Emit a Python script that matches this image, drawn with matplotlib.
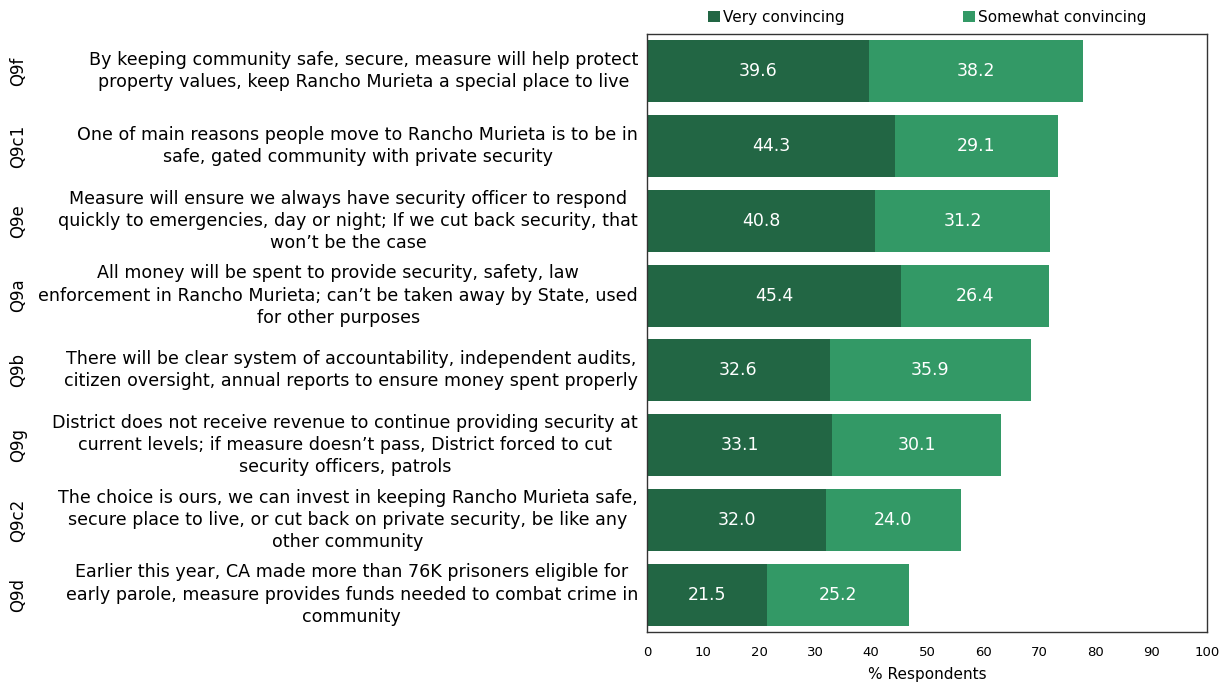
import matplotlib.pyplot as plt
import numpy as np

codes = ["Q9f", "Q9c1", "Q9e", "Q9a", "Q9b", "Q9g", "Q9c2", "Q9d"]
statements = [
    "By keeping community safe, secure, measure will help protect\nproperty values, keep Rancho Murieta a special place to live",
    "One of main reasons people move to Rancho Murieta is to be in\nsafe, gated community with private security",
    "Measure will ensure we always have security officer to respond\nquickly to emergencies, day or night; If we cut back security, that\nwon\u2019t be the case",
    "All money will be spent to provide security, safety, law\nenforcement in Rancho Murieta; can\u2019t be taken away by State, used\nfor other purposes",
    "There will be clear system of accountability, independent audits,\ncitizen oversight, annual reports to ensure money spent properly",
    "District does not receive revenue to continue providing security at\ncurrent levels; if measure doesn\u2019t pass, District forced to cut\nsecurity officers, patrols",
    "The choice is ours, we can invest in keeping Rancho Murieta safe,\nsecure place to live, or cut back on private security, be like any\nother community",
    "Earlier this year, CA made more than 76K prisoners eligible for\nearly parole, measure provides funds needed to combat crime in\ncommunity",
]
very = [39.6, 44.3, 40.8, 45.4, 32.6, 33.1, 32.0, 21.5]
somewhat = [38.2, 29.1, 31.2, 26.4, 35.9, 30.1, 24.0, 25.2]

dark = "#226644"
light = "#339966"

fig = plt.figure(figsize=(12.24, 6.84), dpi=100)
ax = fig.add_axes([647 / 1224, 1 - 632 / 684, 560 / 1224, 598 / 684])

y = np.arange(len(codes))
b1 = ax.barh(y, very, height=0.83, color=dark, label="Very convincing")
b2 = ax.barh(y, somewhat, left=very, height=0.83, color=light, label="Somewhat convincing")

for v, s, yi in zip(very, somewhat, y):
    ax.text(v / 2, yi, f"{v:.1f}", ha="center", va="center", color="white", fontsize=12.5)
    ax.text(v + s / 2, yi, f"{s:.1f}", ha="center", va="center", color="white", fontsize=12.5)

ax.set_ylim(len(codes) - 0.5, -0.5)
ax.set_xlim(0, 100)
ax.set_xticks(range(0, 101, 10))
ax.tick_params(axis="x", length=0, labelsize=9.5, pad=10)
ax.set_yticks([])
ax.set_xlabel("% Respondents", fontsize=11, labelpad=6)
for sp in ax.spines.values():
    sp.set_color("#333333")
    sp.set_linewidth(1)

# statement text (right-aligned block, centred lines) and question codes
for yi, code, text in zip(y, codes, statements):
    ax.text(-0.016, yi, text, transform=ax.get_yaxis_transform(), ha="right",
            va="center", multialignment="center", fontsize=12.6, linespacing=1.3)
    ax.text(-1.123, yi, code, transform=ax.get_yaxis_transform(), ha="center",
            va="center", rotation=90, fontsize=12)

ax.legend(handles=[b1, b2], loc="lower center", bbox_to_anchor=(0.5, 1.0), ncol=2,
          frameon=False, fontsize=11, handlelength=0.8, handleheight=0.8,
          handletextpad=0.2, columnspacing=7.75, borderaxespad=0.2)

fig.savefig("out.png", dpi=100)
